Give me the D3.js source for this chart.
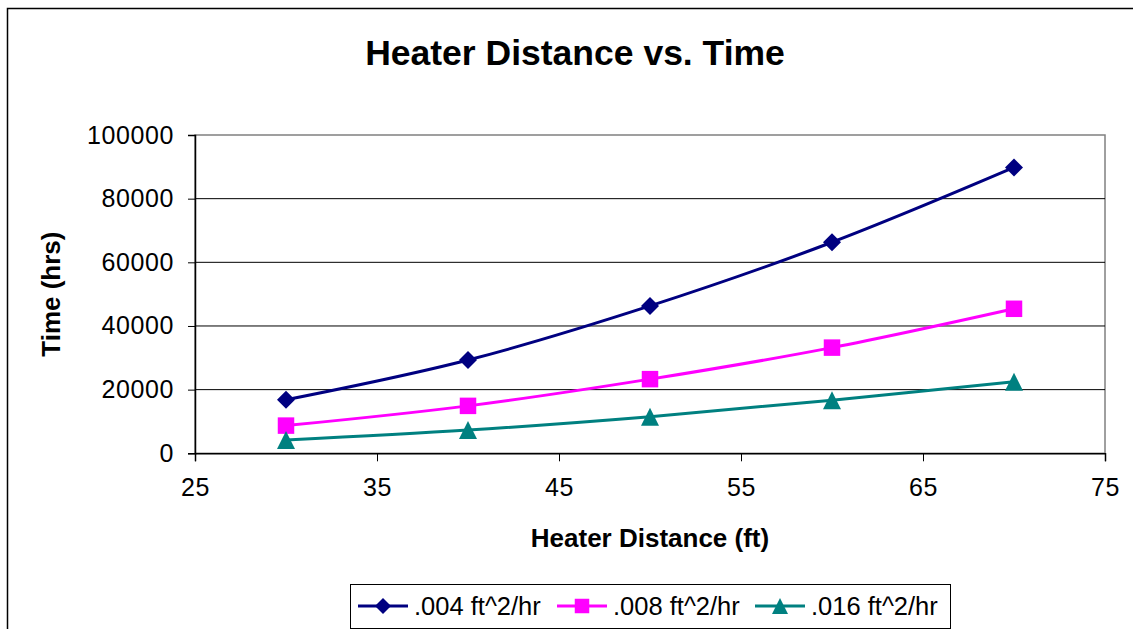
<!DOCTYPE html>
<html>
<head>
<meta charset="utf-8">
<script src="https://cdn.jsdelivr.net/npm/d3@7"></script>
<style>
  html, body { margin: 0; padding: 0; background: #fff; }
  svg { display: block; font-family: "Liberation Sans", Arial, sans-serif; }
</style>
</head>
<body>
<svg id="chart" width="1133" height="629"></svg>
<script>
// Heater distance (ft) at which each time was computed
const distances = [30, 40, 50, 60, 70];
// Time (hrs) for each thermal diffusivity
const time004 = [16800, 29300, 46300, 66300, 89800];
const time008 = [8700, 14900, 23300, 33200, 45400];
const time016 = [4200, 7300, 11500, 16700, 22500];
const seriesNames = [".004 ft^2/hr", ".008 ft^2/hr", ".016 ft^2/hr"];
const seriesColors = ["#000080", "#FF00FF", "#008080"];
const seriesShapes = ["diamond", "square", "triangle"];
const xTicks = [25, 35, 45, 55, 65, 75];
const yTicks = [0, 20000, 40000, 60000, 80000, 100000];

const seriesValues = [time004, time008, time016];
const series = seriesNames.map((name, i) => ({
  name,
  color: seriesColors[i],
  shape: seriesShapes[i],
  points: distances.map((d, j) => ({ x: d, y: seriesValues[i][j] }))
}));

const svg = d3.select("#chart");
const plot = { left: 195, right: 1105, top: 135, bottom: 453.3 };

const x = d3.scaleLinear().domain([25, 75]).range([plot.left, plot.right]);
const y = d3.scaleLinear().domain([0, 100000]).range([plot.bottom, plot.top]);

// Outer chart frame
svg.append("rect")
  .attr("x", 7.5).attr("y", 8.5)
  .attr("width", 1140).attr("height", 640)
  .attr("fill", "#fff").attr("stroke", "#000").attr("stroke-width", 1.5);

// Title
svg.append("text")
  .attr("x", 575).attr("y", 65)
  .attr("text-anchor", "middle")
  .attr("font-size", 35.5).attr("font-weight", "bold")
  .text("Heater Distance vs. Time");

// Plot area border
svg.append("rect")
  .attr("x", plot.left).attr("y", plot.top)
  .attr("width", plot.right - plot.left).attr("height", plot.bottom - plot.top)
  .attr("fill", "#fff").attr("stroke", "#808080").attr("stroke-width", 1.5);

// Horizontal gridlines
svg.append("g")
  .selectAll("line")
  .data(yTicks.filter(t => t > 0 && t < 100000))
  .join("line")
  .attr("x1", plot.left).attr("x2", plot.right)
  .attr("y1", d => y(d)).attr("y2", d => y(d))
  .attr("stroke", "#000").attr("stroke-width", 1);

// Y axis
const yAxis = svg.append("g")
  .attr("transform", `translate(${plot.left},0)`)
  .call(d3.axisLeft(y).tickValues(yTicks).tickFormat(d3.format("d")).tickSize(7).tickPadding(14));
yAxis.select(".domain").attr("stroke", "#000").attr("stroke-width", 1.5);
yAxis.selectAll(".tick line").attr("stroke", "#000").attr("stroke-width", 1);
yAxis.selectAll("text")
  .attr("font-size", 25).attr("fill", "#000")
  .attr("font-family", "'Liberation Sans', Arial, sans-serif")
  .attr("letter-spacing", 0.6);

// X axis
const xAxis = svg.append("g")
  .attr("transform", `translate(0,${plot.bottom})`)
  .call(d3.axisBottom(x).tickValues(xTicks).tickSize(8).tickPadding(17));
xAxis.select(".domain").attr("stroke", "#000").attr("stroke-width", 1.5);
xAxis.selectAll(".tick line").attr("stroke", "#000").attr("stroke-width", 1);
xAxis.selectAll("text")
  .attr("font-size", 25).attr("fill", "#000")
  .attr("font-family", "'Liberation Sans', Arial, sans-serif")
  .attr("letter-spacing", 0.6);

// Axis titles
svg.append("text")
  .attr("x", (plot.left + plot.right) / 2).attr("y", 547)
  .attr("text-anchor", "middle")
  .attr("font-size", 26).attr("font-weight", "bold")
  .text("Heater Distance (ft)");

svg.append("text")
  .attr("transform", `translate(60,${(plot.top + plot.bottom) / 2}) rotate(-90)`)
  .attr("text-anchor", "middle")
  .attr("font-size", 26).attr("font-weight", "bold")
  .text("Time (hrs)");

// Marker shapes
function markerPath(shape, s) {
  if (shape === "diamond") {
    const r = s / 2;
    return `M0,${-r}L${r},0L0,${r}L${-r},0Z`;
  }
  if (shape === "square") {
    const r = s / 2;
    return `M${-r},${-r}H${r}V${r}H${-r}Z`;
  }
  const w = s / 2;
  return `M0,${-s / 2}L${w},${s / 2}L${-w},${s / 2}Z`;
}
const markerSize = { diamond: 18, square: 16.5, triangle: 18 };

// Smoothed series lines
const line = d3.line()
  .x(d => x(d.x))
  .y(d => y(d.y))
  .curve(d3.curveCatmullRom.alpha(0.5));

const gSeries = svg.append("g");
series.forEach(s => {
  gSeries.append("path")
    .attr("d", line(s.points))
    .attr("fill", "none")
    .attr("stroke", s.color)
    .attr("stroke-width", 3);
});
series.forEach(s => {
  gSeries.append("g")
    .selectAll("path")
    .data(s.points)
    .join("path")
    .attr("transform", d => `translate(${x(d.x)},${y(d.y)})`)
    .attr("d", markerPath(s.shape, markerSize[s.shape]))
    .attr("fill", s.color);
});

// Legend
const legend = svg.append("g");
legend.append("rect")
  .attr("x", 350.5).attr("y", 584.5)
  .attr("width", 600).attr("height", 44)
  .attr("fill", "#fff").attr("stroke", "#000").attr("stroke-width", 1);

const legendX = [358, 557, 755];
series.forEach((s, i) => {
  const lx = legendX[i];
  const ly = 606;
  legend.append("line")
    .attr("x1", lx).attr("x2", lx + 50)
    .attr("y1", ly).attr("y2", ly)
    .attr("stroke", s.color).attr("stroke-width", 3);
  legend.append("path")
    .attr("transform", `translate(${lx + 25},${ly})`)
    .attr("d", markerPath(s.shape, markerSize[s.shape] - 2))
    .attr("fill", s.color);
  legend.append("text")
    .attr("x", lx + 56).attr("y", ly + 9)
    .attr("font-size", 25.5)
    .text(s.name);
});
</script>
</body>
</html>
